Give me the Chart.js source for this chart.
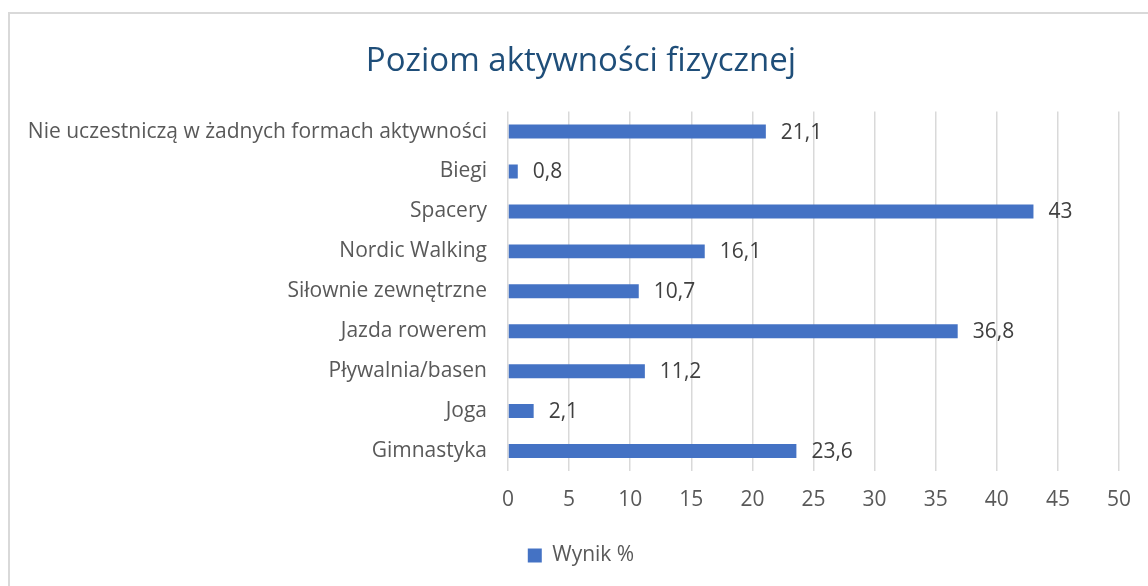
<!DOCTYPE html>
<html>
<head>
<meta charset="utf-8">
<script src="https://cdn.jsdelivr.net/npm/chart.js@4"></script>
<style>
  html, body { margin: 0; padding: 0; overflow: hidden; background: #fff; }
  #wrap { position: relative; width: 1162px; height: 586px; }
  #frame {
    position: absolute; left: 8px; top: 12px; width: 1200px; height: 640px;
    border: 2px solid #d9d9d9; pointer-events: none;
  }
</style>
</head>
<body>
<div id="wrap">
  <canvas id="barCanvas" width="1162" height="586"></canvas>
  <div id="frame"></div>
</div>
<script>
const categories = [
    "Nie uczestniczą w żadnych formach aktywności",
    "Biegi",
    "Spacery",
    "Nordic Walking",
    "Siłownie zewnętrzne",
    "Jazda rowerem",
    "Pływalnia/basen",
    "Joga",
    "Gimnastyka"
];
const wynik = [21.1, 0.8, 43, 16.1, 10.7, 36.8, 11.2, 2.1, 23.6];
const xTicks = [0, 5, 10, 15, 20, 25, 30, 35, 40, 45, 50];

const fontFamily = "'Open Sans', sans-serif";
const fmt = v => String(v).replace(".", ",");

// draws the value next to the end of each bar
const valueLabels = {
    id: "valueLabels",
    afterDatasetsDraw(chart) {
        const ctx = chart.ctx;
        const meta = chart.getDatasetMeta(0);
        ctx.save();
        ctx.font = "21px " + fontFamily;
        ctx.fillStyle = "#404040";
        ctx.textAlign = "left";
        ctx.textBaseline = "middle";
        meta.data.forEach((bar, i) => {
            ctx.fillText(fmt(wynik[i]), bar.x + 15, bar.y + 1);
        });
        ctx.restore();
    }
};

const barChart = new Chart(document.getElementById("barCanvas"), {
    type: "bar",
    data: {
        labels: categories,
        datasets: [{
            label: "Wynik %",
            data: wynik,
            backgroundColor: "#4472c4",
            borderWidth: 0,
            categoryPercentage: 0.35,
            barPercentage: 1
        }]
    },
    options: {
        indexAxis: "y",
        responsive: false,
        animation: false,
        layout: {
            padding: { left: 0, right: 0, top: 0, bottom: 10 }
        },
        scales: {
            x: {
                min: 0,
                max: 50,
                afterBuildTicks: scale => { scale.ticks = xTicks.map(v => ({ value: v })); },
                afterFit: scale => { scale.height = 50; },
                grid: { color: "#d9d9d9", lineWidth: 1.5, drawTicks: false },
                border: { display: false },
                ticks: {
                    padding: 16,
                    color: "#595959",
                    font: { family: fontFamily, size: 21 }
                }
            },
            y: {
                afterFit: scale => { scale.width = 508; },
                grid: { display: false, drawTicks: false },
                border: { display: false },
                ticks: {
                    padding: 21,
                    color: "#595959",
                    font: { family: fontFamily, size: 21 }
                }
            },
            // empty right-hand axis that keeps the plot clear of the right edge
            yRight: {
                type: "category",
                position: "right",
                afterFit: scale => { scale.width = 43; },
                grid: { display: false, drawTicks: false },
                border: { display: false },
                ticks: { display: false }
            }
        },
        plugins: {
            title: {
                display: true,
                text: "Poziom aktywności fizycznej",
                color: "#1f4e79",
                font: { family: fontFamily, size: 33, weight: "normal" },
                padding: { top: 42, bottom: 30 }
            },
            legend: {
                position: "bottom",
                labels: {
                    boxWidth: 14,
                    boxHeight: 14,
                    padding: 24,
                    color: "#595959",
                    font: { family: fontFamily, size: 21 }
                }
            },
            tooltip: { enabled: false }
        }
    },
    plugins: [valueLabels]
});
</script>
</body>
</html>
